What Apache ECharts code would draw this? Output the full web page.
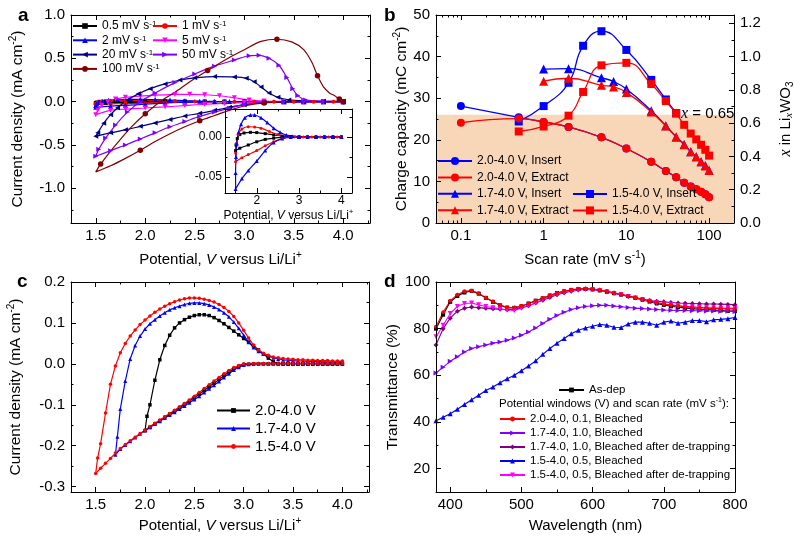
<!DOCTYPE html>
<html><head><meta charset="utf-8">
<script src="https://cdn.jsdelivr.net/npm/echarts@6/dist/echarts.min.js"></script>
<style>html,body{margin:0;padding:0;background:#fff}#c{width:800px;height:538px}</style>
</head><body><div id="c"></div>
<script>
// ===================== DATA =====================
// Panel a: cyclic voltammograms, [potential (V vs Li/Li+), current density (mA cm-2)]
const cv_0p5 = [[4.0,0],[3.8,0],[3.6,0],[3.4,0],[3.2,0],[3.0,0],[2.8,0],[2.6,-0.0005],[2.4,-0.0015],[2.2,-0.003],[2.0,-0.006],[1.8,-0.010],[1.6,-0.014],[1.5,-0.017],
  [1.51,-0.010],[1.54,-0.002],[1.6,0.003],[1.7,0.005],[1.85,0.0058],[2.0,0.0055],[2.2,0.0042],[2.4,0.0025],[2.6,0.001],[2.8,0.0003],[3.0,0.0001],[3.2,0],[3.4,0],[3.6,0],[3.8,0],[4.0,0]];
const cv_1 = [[4.0,0],[3.8,0],[3.6,0],[3.4,0],[3.2,0],[3.0,0],[2.8,-0.0005],[2.6,-0.002],[2.4,-0.006],[2.2,-0.011],[2.0,-0.017],[1.8,-0.022],[1.65,-0.026],[1.5,-0.031],
  [1.5,-0.02],[1.52,-0.008],[1.56,0.003],[1.65,0.010],[1.8,0.0128],[1.95,0.0125],[2.1,0.011],[2.3,0.007],[2.5,0.003],[2.7,0.001],[2.9,0.0003],[3.1,0],[3.3,0],[3.5,0],[3.7,0],[3.9,0],[4.0,0]];
const cv_2 = [[4.0,0],[3.8,0],[3.6,0],[3.4,0],[3.2,0],[3.0,0],[2.8,0],[2.6,-0.002],[2.4,-0.007],[2.2,-0.017],[2.0,-0.030],[1.8,-0.042],[1.65,-0.052],[1.5,-0.065],
  [1.5,-0.045],[1.51,-0.025],[1.53,-0.008],[1.57,0.006],[1.63,0.016],[1.72,0.024],[1.85,0.0275],[1.95,0.0275],[2.1,0.024],[2.25,0.018],[2.4,0.011],[2.55,0.006],[2.7,0.0025],[2.85,0.001],[3.0,0.0005],[3.2,0.0003],[3.4,0.0002],[3.6,0.0002],[3.8,0.0002],[4.0,0.0002]];
const cv_5 = [[4.0,0],[3.8,0],[3.6,0],[3.4,0],[3.2,-0.003],[3.0,-0.01],[2.8,-0.02],[2.6,-0.03],[2.4,-0.045],[2.2,-0.06],[2.0,-0.073],[1.8,-0.085],[1.65,-0.1],[1.5,-0.15],
  [1.52,-0.10],[1.56,-0.04],[1.62,0.0],[1.7,0.03],[1.8,0.05],[1.95,0.065],[2.1,0.075],[2.3,0.083],[2.45,0.085],[2.6,0.08],[2.75,0.068],[2.9,0.045],[3.05,0.02],[3.2,0.007],[3.4,0.002],[3.6,0],[3.8,0],[4.0,0]];
const cv_20 = [[4.0,0],[3.8,0],[3.6,0],[3.4,-0.002],[3.2,-0.01],[3.0,-0.035],[2.85,-0.065],[2.7,-0.10],[2.55,-0.135],[2.4,-0.165],[2.25,-0.205],[2.1,-0.245],[1.95,-0.285],[1.8,-0.325],[1.65,-0.36],[1.5,-0.40],
  [1.52,-0.36],[1.58,-0.25],[1.65,-0.15],[1.72,-0.07],[1.82,0.02],[1.93,0.09],[2.05,0.15],[2.2,0.205],[2.35,0.25],[2.5,0.275],[2.7,0.29],[2.9,0.285],[3.02,0.27],[3.1,0.23],[3.17,0.17],[3.25,0.10],[3.34,0.05],[3.45,0.02],[3.6,0.008],[3.8,0.005],[4.0,0.005]];
const cv_50 = [[4.0,0],[3.8,0],[3.6,0],[3.4,-0.002],[3.2,-0.008],[3.0,-0.035],[2.85,-0.075],[2.7,-0.12],[2.55,-0.17],[2.4,-0.23],[2.25,-0.29],[2.1,-0.36],[1.95,-0.43],[1.8,-0.50],[1.65,-0.565],[1.5,-0.63],
  [1.53,-0.55],[1.6,-0.42],[1.7,-0.27],[1.82,-0.12],[1.95,0.0],[2.1,0.1],[2.3,0.22],[2.5,0.32],[2.7,0.41],[2.9,0.48],[3.05,0.53],[3.15,0.535],[3.25,0.5],[3.35,0.42],[3.43,0.28],[3.49,0.15],[3.54,0.07],[3.62,0.02],[3.8,0.005],[4.0,0.003]];
const cv_100 = [[4.0,0],[3.8,0],[3.6,0],[3.4,-0.002],[3.2,-0.015],[3.0,-0.05],[2.85,-0.1],[2.7,-0.16],[2.55,-0.22],[2.4,-0.29],[2.25,-0.37],[2.1,-0.46],[1.95,-0.56],[1.79,-0.66],[1.65,-0.74],[1.5,-0.81],
  [1.55,-0.72],[1.65,-0.57],[1.76,-0.42],[1.87,-0.28],[2.0,-0.14],[2.15,0.0],[2.3,0.11],[2.45,0.23],[2.63,0.36],[2.85,0.51],[3.0,0.6],[3.17,0.695],[3.33,0.72],[3.48,0.69],[3.6,0.6],[3.68,0.46],[3.74,0.3],[3.8,0.17],[3.86,0.1],[3.91,0.07],[3.96,0.03],[4.0,0.01]];

// Panel b: charge capacity (mC cm-2) vs scan rate (mV s-1)
const bRate20 = [0.1,0.5,1,2,5,10,20,30,40,50,60,70,80,90,100];
const bIns20  = [28.1,25.4,24.3,23.1,20.6,17.9,14.7,12.5,11.0,9.7,8.8,8.1,7.5,6.9,6.2];
const bExt20  = [24.1,25.1,24.3,23.1,20.6,17.9,14.7,12.5,11.0,9.7,8.8,8.1,7.5,6.9,6.2];
const bRate17 = [1,2,5,7,10,20,30,40,50,60,70,80,90,100];
const bIns17  = [37.0,37.1,34.9,34.0,32.2,27.0,23.4,20.7,18.9,17.1,15.9,14.7,13.8,12.7];
const bExt17  = [34.1,34.8,33.1,32.7,31.4,26.7,23.3,20.7,18.8,17.1,15.9,14.7,13.7,12.6];
const bRate15i = [0.5,1,2,3,5,10,20,30,40];
const bIns15   = [24.4,28.1,33.7,42.6,46.1,41.6,34.4,29.7,26.4];
const bRate15e = [0.5,1,2,3,5,10,20,30,40,50,60,70,80,90,100];
const bExt15   = [22.0,23.2,25.8,31.5,37.9,38.5,33.4,29.3,26.3,23.6,21.5,20.1,18.8,17.6,16.2];
const bXLimit = 0.65;          // x in LixWO3 threshold (right axis)
const bCapPerX = 50 / 1.25;    // left axis / right axis ratio

// Panel c: CVs with different potential windows, [V, mA cm-2]
const c_20 = [[4.00,0],[3.95,0],[3.90,0],[3.85,0],[3.80,0],[3.75,0],[3.70,0],[3.65,0],[3.60,0],[3.55,0],[3.50,0],[3.45,0],[3.40,0],[3.35,0],[3.30,0],[3.25,0],[3.20,0],[3.15,0],[3.10,0],[3.05,-0.001],[3.00,-0.002],[2.95,-0.006],[2.90,-0.012],[2.85,-0.020],[2.80,-0.029],[2.75,-0.038],[2.70,-0.047],[2.65,-0.056],[2.60,-0.065],[2.55,-0.074],[2.50,-0.083],[2.45,-0.091],[2.40,-0.099],[2.35,-0.107],[2.30,-0.115],[2.25,-0.123],[2.20,-0.131],[2.15,-0.139],[2.10,-0.147],[2.05,-0.155],[2.00,-0.163],
  [2.02,-0.128],[2.05,-0.100],[2.10,-0.040],[2.15,0.010],[2.20,0.045],[2.25,0.070],[2.30,0.088],[2.35,0.100],[2.40,0.108],[2.45,0.114],[2.50,0.118],[2.55,0.120],[2.60,0.120],[2.65,0.118],[2.70,0.113],[2.75,0.106],[2.80,0.098],[2.85,0.089],[2.90,0.080],[2.95,0.071],[3.00,0.062],[3.05,0.053],[3.10,0.044],[3.15,0.034],[3.20,0.024],[3.25,0.014],[3.30,0.005],[3.35,0.001],[3.40,0],[3.45,0],[3.50,0],[3.55,0],[3.60,0],[3.65,0],[3.70,0],[3.75,0],[3.80,0],[3.85,0],[3.90,0],[3.95,0],[4.00,0]];
const c_17 = [[4.00,0.001],[3.95,0.001],[3.90,0.001],[3.85,0.001],[3.80,0.001],[3.75,0.001],[3.70,0.001],[3.65,0.001],[3.60,0.001],[3.55,0.001],[3.50,0.001],[3.45,0.001],[3.40,0.001],[3.35,0.001],[3.30,0.001],[3.25,0.001],[3.20,0.001],[3.15,0.001],[3.10,0.0005],[3.05,-0.001],[3.00,-0.003],[2.95,-0.008],[2.90,-0.015],[2.85,-0.024],[2.80,-0.033],[2.75,-0.043],[2.70,-0.052],[2.65,-0.061],[2.60,-0.070],[2.55,-0.079],[2.50,-0.087],[2.45,-0.095],[2.40,-0.103],[2.35,-0.110],[2.30,-0.118],[2.25,-0.125],[2.20,-0.132],[2.15,-0.140],[2.10,-0.147],[2.05,-0.155],[2.00,-0.163],[1.95,-0.171],[1.90,-0.180],[1.85,-0.189],[1.80,-0.198],[1.75,-0.208],[1.70,-0.222],
  [1.72,-0.178],[1.75,-0.110],[1.80,-0.042],[1.85,0.012],[1.90,0.045],[1.95,0.068],[2.00,0.085],[2.05,0.098],[2.10,0.108],[2.15,0.117],[2.20,0.125],[2.25,0.132],[2.30,0.137],[2.35,0.141],[2.40,0.145],[2.45,0.148],[2.50,0.149],[2.55,0.149],[2.60,0.147],[2.65,0.144],[2.70,0.139],[2.75,0.133],[2.80,0.125],[2.85,0.115],[2.90,0.102],[2.95,0.087],[3.00,0.070],[3.05,0.053],[3.10,0.040],[3.15,0.031],[3.20,0.024],[3.25,0.019],[3.30,0.015],[3.35,0.012],[3.40,0.010],[3.45,0.009],[3.50,0.008],[3.55,0.007],[3.60,0.007],[3.65,0.006],[3.70,0.006],[3.75,0.006],[3.80,0.005],[3.85,0.005],[3.90,0.005],[3.95,0.005],[4.00,0.005]];
const c_15 = [[4.00,0.001],[3.95,0.001],[3.90,0.001],[3.85,0.001],[3.80,0.001],[3.75,0.001],[3.70,0.001],[3.65,0.001],[3.60,0.001],[3.55,0.001],[3.50,0.001],[3.45,0.001],[3.40,0.001],[3.35,0.001],[3.30,0.001],[3.25,0.001],[3.20,0.001],[3.15,0.001],[3.10,0.001],[3.05,0.0005],[3.00,0.0],[2.95,-0.004],[2.90,-0.009],[2.85,-0.016],[2.80,-0.024],[2.75,-0.033],[2.70,-0.042],[2.65,-0.051],[2.60,-0.060],[2.55,-0.070],[2.50,-0.079],[2.45,-0.088],[2.40,-0.097],[2.35,-0.105],[2.30,-0.113],[2.25,-0.121],[2.20,-0.129],[2.15,-0.137],[2.10,-0.145],[2.05,-0.153],[2.00,-0.162],[1.95,-0.170],[1.90,-0.179],[1.85,-0.188],[1.80,-0.197],[1.75,-0.207],[1.70,-0.218],[1.65,-0.231],[1.60,-0.243],[1.55,-0.255],[1.50,-0.268],
  [1.52,-0.230],[1.55,-0.195],[1.60,-0.120],[1.65,-0.050],[1.70,-0.005],[1.75,0.027],[1.80,0.050],[1.85,0.068],[1.90,0.083],[1.95,0.096],[2.00,0.107],[2.05,0.117],[2.10,0.126],[2.15,0.134],[2.20,0.141],[2.25,0.147],[2.30,0.152],[2.35,0.156],[2.40,0.159],[2.45,0.161],[2.50,0.161],[2.55,0.160],[2.60,0.158],[2.65,0.155],[2.70,0.151],[2.75,0.145],[2.80,0.138],[2.85,0.128],[2.90,0.116],[2.95,0.100],[3.00,0.082],[3.05,0.063],[3.10,0.046],[3.15,0.034],[3.20,0.026],[3.25,0.021],[3.30,0.017],[3.35,0.015],[3.40,0.013],[3.45,0.012],[3.50,0.011],[3.55,0.010],[3.60,0.010],[3.65,0.009],[3.70,0.009],[3.75,0.008],[3.80,0.008],[3.85,0.008],[3.90,0.007],[3.95,0.007],[4.00,0.007]];

// Panel d: transmittance (%) vs wavelength (nm)
const dWave = [380,390,400,410,420,430,440,450,460,470,480,490,500,510,520,530,540,550,560,570,580,590,600,610,620,630,640,650,660,670,680,690,700,710,720,730,740,750,760,770,780,790,800];
const dAsDep  = [80,86,91.5,94,95.5,96.2,95,93.2,91.5,90,89,88.9,89.6,90.8,92,93,94.2,95.3,96,96.6,97,97,96.8,96.4,95.8,95.2,94.6,94,93.2,92.4,91.6,90.8,90.2,89.6,89.2,88.9,88.6,88.3,88.2,88,87.8,87.6,87.5];
const dW20    = [80.8,87,92,94.5,96,96.3,95.2,93.3,91.6,90.1,89.2,89.1,89.7,90.7,92,93.1,94.3,95.3,96.1,96.7,97.1,97.2,97,96.6,96,95.4,94.7,94,93.3,92.6,91.9,91.2,90.6,90.1,89.7,89.4,89.1,88.9,88.8,88.7,88.6,88.5,88.5];
const dW17    = [61,63.5,66,68,70,71.5,72.3,73,73.8,74.3,75,76,77.2,78.6,80.3,82.2,84,85.6,87,88.2,89,89.5,89.8,90,90,89.7,89.4,89.1,88.8,88.6,88.4,88.2,88,87.9,87.8,87.8,87.7,87.7,87.6,87.6,87.5,87.5,87.4];
const dW17dt  = [73,80,84.5,87.5,88.8,89.3,89,88.7,88.5,88.3,88.1,88.3,89,89.8,91,92.2,93.4,94.5,95.4,96,96.6,97,97,96.6,96,95.3,94.6,93.8,93.2,92.6,92.1,91.7,91.5,91.2,91,90.9,90.8,90.7,90.6,90.6,90.5,90.4,90.3];
const dW15    = [40.5,42,43.5,45.5,47.5,49.5,51.5,53.5,55,56.8,58.5,60,62,64,66.2,69,71.5,73.8,75.8,77.8,79.3,80.3,81,81.8,81.5,80.6,80.5,82,82.8,82.8,82.3,81.5,82.8,83.3,82.3,82.8,83.5,83.5,83,83.8,84,84.3,84.8];
const dW15dt  = [76.5,81.5,86.5,89.5,90.8,91,90.2,89.5,89,88.5,88,87.8,88.8,89.8,91,92.5,93.8,94.8,95.5,96.2,96.6,96.8,96.7,96.3,95.7,95.1,94.5,93.8,93.1,92.4,91.7,91.1,90.6,90.2,89.9,89.6,89.4,89.2,89,88.9,88.8,88.8,88.8];

// Tick values
const aXTicks = [1.5,2.0,2.5,3.0,3.5,4.0], aXMinor = [1.75,2.25,2.75,3.25,3.75,4.25];
const aYTicks = [-1.0,-0.5,0.0,0.5,1.0], aYMinor = [-1.25,-0.75,-0.25,0.25,0.75];
const inXTicks = [2,3,4], inXMinor = [1.5,2.5,3.5];
const inYTicks = [-0.05,0.00], inYMinor = [-0.025,0.025];
const bXTicks = [0.1,1,10,100], bXMinor = [0.06,0.07,0.08,0.09,0.2,0.3,0.4,0.5,0.6,0.7,0.8,0.9,2,3,4,5,6,7,8,9,20,30,40,50,60,70,80,90];
const bYTicks = [0,10,20,30,40,50], bYMinor = [5,15,25,35,45];
const bY2Ticks = [0.0,0.2,0.4,0.6,0.8,1.0,1.2], bY2Minor = [0.1,0.3,0.5,0.7,0.9,1.1];
const cYTicks = [-0.3,-0.2,-0.1,0.0,0.1,0.2], cYMinor = [-0.25,-0.15,-0.05,0.05,0.15];
const dXTicks = [400,500,600,700,800], dXMinor = [450,550,650,750];
const dYTicks = [20,40,60,80,100], dYMinor = [30,50,70,90];

// ===================== BUILD =====================
const F = '"Liberation Sans", Arial, Helvetica, sans-serif';
const FSERIF = '"Liberation Serif", "Times New Roman", serif';
function rich(fs, lh) {
  lh = lh || Math.round(fs * 1.25);
  const ss = Math.round(fs * 0.65);
  return {
    t: {fontSize: fs, fontFamily: F, color: '#000', lineHeight: lh},
    i: {fontSize: fs, fontFamily: F, fontStyle: 'italic', color: '#000', lineHeight: lh},
    ti: {fontSize: fs + 1, fontFamily: FSERIF, fontStyle: 'italic', color: '#000', lineHeight: lh},
    s: {fontSize: ss, fontFamily: F, color: '#000', verticalAlign: 'top', lineHeight: ss},
    u: {fontSize: ss, fontFamily: F, color: '#000', verticalAlign: 'bottom', lineHeight: ss},
    ui: {fontSize: ss + 1, fontFamily: FSERIF, fontStyle: 'italic', color: '#000', verticalAlign: 'bottom', lineHeight: ss}
  };
}
function supText(n) {
  const m = n.match(/^(.*) s-1$/);
  return m ? '{t|' + m[1] + ' s}{s|-1}' : '{t|' + n + '}';
}

const grids = [
  {left: 71, top: 15, width: 299, height: 208},   // a
  {left: 225, top: 109, width: 127, height: 84},  // a inset
  {left: 436, top: 15, width: 298, height: 208},  // b
  {left: 71, top: 282, width: 298, height: 210},  // c
  {left: 436, top: 282, width: 299, height: 210}  // d
];
const xAxes = [], yAxes = [];
function mkAxis(list, gi, o, pos, role) {
  const minor = role === 'minor' || role === 'mirrorMinor';
  const a = {
    gridIndex: gi, type: o.type || 'value', position: pos, min: o.min, max: o.max, z: 5, silent: true,
    axisLine: {show: role === 'main' || role === 'mirror', onZero: false, lineStyle: {color: '#000', width: 1}},
    axisTick: {show: true, inside: true, length: minor ? 2.5 : 5, customValues: minor ? o.minors : o.majors, lineStyle: {color: '#000', width: 1}},
    axisLabel: {show: false},
    splitLine: {show: false}
  };
  if (o.type === 'log') a.logBase = 10;
  if (role === 'main') {
    a.axisLabel = {show: true, customValues: o.majors, formatter: o.fmt, margin: o.margin, fontSize: o.fs, fontFamily: F, color: '#000'};
    if (o.name) {
      a.name = o.name; a.nameLocation = 'middle'; a.nameGap = o.nameGap;
      a.nameTextStyle = {rich: rich(o.nfs), fontSize: o.nfs, fontFamily: F, color: '#000'};
    }
  }
  list.push(a);
  return list.length - 1;
}
function frame(gi, X, Y, Y2) {
  const xi = mkAxis(xAxes, gi, X, 'bottom', 'main');
  mkAxis(xAxes, gi, X, 'bottom', 'minor');
  mkAxis(xAxes, gi, X, 'top', 'mirror');
  mkAxis(xAxes, gi, X, 'top', 'mirrorMinor');
  const yi = mkAxis(yAxes, gi, Y, 'left', 'main');
  mkAxis(yAxes, gi, Y, 'left', 'minor');
  let yi2 = null;
  if (Y2) { yi2 = mkAxis(yAxes, gi, Y2, 'right', 'main'); mkAxis(yAxes, gi, Y2, 'right', 'minor'); }
  else { mkAxis(yAxes, gi, Y, 'right', 'mirror'); mkAxis(yAxes, gi, Y, 'right', 'mirrorMinor'); }
  return {xi, yi, yi2};
}
const fmt1 = v => Number(v).toFixed(1);
const fmt2 = v => Number(v).toFixed(2);
const fmtS = v => String(v);
const potName = '{t|Potential, }{i|V}{t| versus Li/Li}{s|+}';

const A = frame(0,
  {min: 1.25, max: 4.27, majors: aXTicks, minors: aXMinor, fmt: fmt1, fs: 15, margin: 5, name: potName, nameGap: 27, nfs: 15},
  {min: -1.4, max: 1.0, majors: aYTicks, minors: aYMinor, fmt: fmt1, fs: 15, margin: 6, name: '{t|Current density (mA cm}{s|-2}{t|)}', nameGap: 44, nfs: 15.5});
const AI = frame(1,
  {min: 1.25, max: 4.25, majors: inXTicks, minors: inXMinor, fmt: fmtS, fs: 12, margin: 2, name: potName, nameGap: 14, nfs: 12},
  {min: -0.07, max: 0.035, majors: inYTicks, minors: inYMinor, fmt: fmt2, fs: 12, margin: 3});
const B = frame(2,
  {type: 'log', min: 0.05, max: 200, majors: bXTicks, minors: bXMinor, fmt: fmtS, fs: 15, margin: 5, name: '{t|Scan rate (mV s}{s|-1}{t|)}', nameGap: 27, nfs: 15},
  {min: 0, max: 50, majors: bYTicks, minors: bYMinor, fmt: fmtS, fs: 15, margin: 6, name: '{t|Charge capacity (mC cm}{s|-2}{t|)}', nameGap: 25, nfs: 15.5},
  {min: 0, max: 1.25, majors: bY2Ticks, minors: bY2Minor, fmt: fmt1, fs: 15, margin: 6, name: '{ti|x}{t| in Li}{ui|x}{t|WO}{u|3}', nameGap: 42, nfs: 15});
const C = frame(3,
  {min: 1.25, max: 4.27, majors: aXTicks, minors: aXMinor, fmt: fmt1, fs: 15, margin: 5, name: potName, nameGap: 24, nfs: 15},
  {min: -0.313, max: 0.2, majors: cYTicks, minors: cYMinor, fmt: fmt1, fs: 15, margin: 6, name: '{t|Current density (mA cm}{s|-2}{t|)}', nameGap: 46, nfs: 15.5});
const D = frame(4,
  {min: 380, max: 800, majors: dXTicks, minors: dXMinor, fmt: fmtS, fs: 15, margin: 5, name: '{t|Wavelength (nm)}', nameGap: 24, nfs: 15},
  {min: 10, max: 100, majors: dYTicks, minors: dYMinor, fmt: fmtS, fs: 15, margin: 6, name: '{t|Transmittance (%)}', nameGap: 34, nfs: 15.5});

const SYM = {
  square: 'rect', circle: 'circle', up: 'triangle', diamond: 'diamond',
  down: 'path://M0,0L10,0L5,9Z', left: 'path://M9,0L9,10L0,5Z', right: 'path://M0,0L0,10L9,5Z'
};
const COL = {black: '#000000', red: '#FF0000', blue: '#0000FF', magenta: '#FF00FF', navy: '#000080', violet: '#8000FF', wine: '#800000', purple: '#800080'};

const series = [];
function addLine(name, data, ax, yi, color, sym, size, width, smooth, extra) {
  const s = Object.assign({
    type: 'line', name: name, data: data, xAxisIndex: ax.xi, yAxisIndex: yi,
    symbol: SYM[sym], symbolSize: size, showSymbol: true, smooth: smooth || false,
    lineStyle: {color: color, width: width}, itemStyle: {color: color},
    animation: false, silent: true, z: 2
  }, extra || {});
  series.push(s);
  return s;
}
const zip = (xs, ys) => xs.map((x, i) => [x, ys[i]]);
// show a marker only on every n-th sample (sparse marker style)
const every = (n, size) => (v, p) => (p.dataIndex % n === 0 ? size : 0);

// Panel a
const aSeries = [
  ['0.5 mV s-1', cv_0p5, COL.black, 'square', 4, 1],
  ['1 mV s-1', cv_1, COL.red, 'circle', 4, 1],
  ['2 mV s-1', cv_2, COL.blue, 'up', 5, 1],
  ['5 mV s-1', cv_5, COL.magenta, 'down', 5, 1],
  ['20 mV s-1', cv_20, COL.navy, 'left', 5, 1],
  ['50 mV s-1', cv_50, COL.violet, 'right', 5, 1],
  ['100 mV s-1', cv_100, COL.wine, 'circle', 5.5, 4]
];
aSeries.forEach(s => addLine(s[0], s[1], A, A.yi, s[2], s[3], s[5] > 1 ? every(s[5], s[4]) : s[4], 1.2, 0.3));
aSeries.slice(0, 3).forEach(s => addLine(s[0], s[1], AI, AI.yi, s[2], s[3], s[4] - 1, 1.2, 0.3));

// Panel b
addLine('shade', [], B, B.yi, '#000', 'circle', 0, 0, false, {
  z: 1, markArea: {silent: true, itemStyle: {color: '#F8D6B8'}, data: [[{yAxis: 0}, {yAxis: bXLimit * bCapPerX}]]}
});
addLine('2.0-4.0 V, Insert', zip(bRate20, bIns20), B, B.yi, COL.blue, 'circle', 8, 1.3, 0.5);
addLine('1.7-4.0 V, Insert', zip(bRate17, bIns17), B, B.yi, COL.blue, 'up', 9, 1.3, 0.5);
addLine('1.5-4.0 V, Insert', zip(bRate15i, bIns15), B, B.yi, COL.blue, 'square', 8, 1.3, 0.5);
addLine('2.0-4.0 V, Extract', zip(bRate20, bExt20), B, B.yi, COL.red, 'circle', 8, 1.3, 0.5);
addLine('1.7-4.0 V, Extract', zip(bRate17, bExt17), B, B.yi, COL.red, 'up', 9, 1.3, 0.5);
addLine('1.5-4.0 V, Extract', zip(bRate15e, bExt15), B, B.yi, COL.red, 'square', 8, 1.3, 0.5);

// Panel c
addLine('2.0-4.0 V', c_20, C, C.yi, COL.black, 'square', 3.5, 1.2);
addLine('1.7-4.0 V', c_17, C, C.yi, COL.blue, 'up', 4, 1.2);
addLine('1.5-4.0 V', c_15, C, C.yi, COL.red, 'circle', 3.5, 1.2);

// Panel d
addLine('As-dep', zip(dWave, dAsDep), D, D.yi, COL.black, 'square', 4, 1.1);
addLine('1.5-4.0, 0.5, Bleached', zip(dWave, dW15), D, D.yi, COL.blue, 'up', 5, 1.1);
addLine('1.7-4.0, 1.0, Bleached', zip(dWave, dW17), D, D.yi, COL.violet, 'right', 5, 1.1);
addLine('1.7-4.0, 1.0, Bleached after de-trapping', zip(dWave, dW17dt), D, D.yi, COL.purple, 'diamond', 5, 1.1);
addLine('1.5-4.0, 0.5, Bleached after de-trapping', zip(dWave, dW15dt), D, D.yi, COL.magenta, 'down', 5, 1.1);
addLine('2.0-4.0, 0.1, Bleached', zip(dWave, dW20), D, D.yi, COL.red, 'circle', 4, 1.1);

// Legends
function mkLegend(items, left, top, fs, lh, iw, ih, gap) {
  return {
    show: true, orient: 'vertical', left: left, top: top, padding: 0, itemGap: gap,
    itemWidth: iw, itemHeight: ih, selectedMode: false, data: items,
    formatter: supText,
    textStyle: {fontSize: fs, fontFamily: F, color: '#000', lineHeight: lh, rich: rich(fs, lh)}
  };
}
const legends = [
  mkLegend(['0.5 mV s-1', '2 mV s-1', '20 mV s-1', '100 mV s-1'], 72, 20, 12, 12, 24, 7, 2.3),
  mkLegend(['1 mV s-1', '5 mV s-1', '50 mV s-1'], 152, 20, 12, 12, 24, 7, 2.3),
  mkLegend(['2.0-4.0 V, Insert', '2.0-4.0 V, Extract', '1.7-4.0 V, Insert', '1.7-4.0 V, Extract'], 437, 154, 12, 14, 34, 10, 2.4),
  mkLegend(['1.5-4.0 V, Insert', '1.5-4.0 V, Extract'], 572, 187, 12, 14, 34, 10, 2.4),
  mkLegend(['2.0-4.0 V', '1.7-4.0 V', '1.5-4.0 V'], 216, 402, 15, 17, 33, 6, 1),
  mkLegend(['As-dep'], 558, 383, 11.5, 14, 25, 6, 0),
  mkLegend(['2.0-4.0, 0.1, Bleached', '1.7-4.0, 1.0, Bleached', '1.7-4.0, 1.0, Bleached after de-trapping', '1.5-4.0, 0.5, Bleached', '1.5-4.0, 0.5, Bleached after de-trapping'], 499, 412, 11.5, 14, 25, 6, 0)
];

// Text annotations
const graphics = [
  {type: 'text', left: 18, top: 6, style: {text: 'a', font: 'bold 19px ' + F, fill: '#000'}},
  {type: 'text', left: 384, top: 6, style: {text: 'b', font: 'bold 19px ' + F, fill: '#000'}},
  {type: 'text', left: 17, top: 272, style: {text: 'c', font: 'bold 19px ' + F, fill: '#000'}},
  {type: 'text', left: 384, top: 272, style: {text: 'd', font: 'bold 19px ' + F, fill: '#000'}},
  {type: 'text', left: 681, top: 106, z: 10, style: {text: '{ti|x}{t| = 0.65}', rich: rich(15)}},
  {type: 'text', left: 499, top: 397, style: {text: '{t|Potential windows (V) and scan rate (mV s}{s|-1}{t|):}', rich: rich(11.5, 14)}}
];

const chart = echarts.init(document.getElementById('c'), null, {renderer: 'canvas'});
chart.setOption({
  animation: false, backgroundColor: '#fff',
  grid: grids, xAxis: xAxes, yAxis: yAxes, series: series, legend: legends, graphic: graphics
});
</script></body></html>
